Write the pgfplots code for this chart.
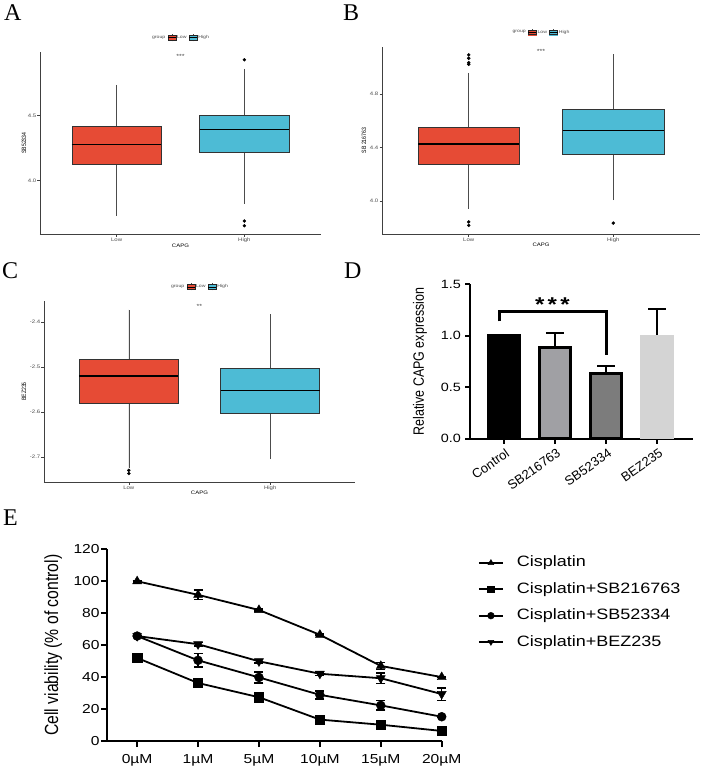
\documentclass[border=0pt]{standalone}
\usepackage{fontspec}
\setmainfont{Liberation Sans}
\newfontfamily\hs[FakeStretch=1.2]{Liberation Sans}
\newfontfamily\vs[FakeStretch=0.83]{Liberation Sans}
\newfontfamily\lettr{Liberation Serif}
\usepackage{pgfplots}
\pgfplotsset{compat=1.18}
\usepgfplotslibrary{statistics}
\definecolor{npgred}{HTML}{E64B35}
\definecolor{npgblue}{HTML}{4DBBD5}
\definecolor{gtxt}{gray}{0.3}
\definecolor{barA}{HTML}{A0A0A4}
\definecolor{barB}{HTML}{7C7C7C}
\definecolor{barC}{HTML}{D4D4D4}
\newcommand\fs[1]{\fontsize{#1bp}{#1bp}\selectfont}

% ggplot-like boxplot panels
\pgfplotsset{
  ggbox/.style={
    scale only axis, anchor=south west, clip=false,
    axis lines*=left, axis line style={black!75, line width=0.7bp, -},
    tick align=outside, major tick length=2.5bp,
    every tick/.style={black!75, line width=0.6bp},
    xmin=0.4, xmax=2.6, xtick={1,2}, xticklabels={Low,High},
    ticklabel style={font=\hs\fs{5}, text=gtxt, inner sep=1bp},
    xlabel={CAPG}, xlabel style={font=\hs\fs{5}, anchor=center},
    ylabel style={font=\vs\fs{6.2}, anchor=center, rotate=0},
    boxplot/draw direction=y,
    boxplot/box extend=0.7,
    boxplot/whisker extend=0,
    boxplot/every median/.style={black, line width=1.3bp},
    boxplot/every whisker/.style={black!70, line width=0.6bp},
    boxplot/every box/.style={draw=black!80, line width=0.6bp},
    legend columns=-1,
    legend style={draw=none, fill=none, font=\hs\fs{4.3}, text=gtxt, at={(0.5,1.078)}, anchor=center,
      inner sep=0bp, nodes={inner sep=0.8bp},
      /tikz/every even column/.append style={column sep=1.5bp}},
  },
  boxkey/.style={legend image code/.code={
      \draw[black!70, line width=0.4bp] (4bp,-3.5bp) -- (4bp,3.5bp);
      \fill[#1] (0bp,-2.3bp) rectangle (8bp,2.3bp);
      \draw[black!85, line width=0.5bp] (0bp,-2.3bp) rectangle (8bp,2.3bp);
      \draw[black, line width=0.7bp] (0bp,0bp) -- (8bp,0bp);}},
  outl/.style={mark=*, mark size=1.5bp, mark options={fill=black, draw=black}},
  errD/.style={error bars/y dir=plus, error bars/y explicit,
      error bars/error bar style={black, line width=2bp},
      error bars/error mark options={rotate=90, black, line width=2bp, mark size=9bp}},
  errE/.style={error bars/y dir=both, error bars/y explicit,
      error bars/error bar style={line width=1.5bp},
      error bars/error mark options={rotate=90, line width=1.5bp, mark size=4.5bp}},
}

\begin{document}
\begin{tikzpicture}
\useasboundingbox (0,0) rectangle (704bp,-769bp);

% panel letters
\node[anchor=base west, font=\lettr\fs{24}, inner sep=0] at (4bp,-20.7bp) {A};
\node[anchor=base west, font=\lettr\fs{24}, inner sep=0] at (343bp,-20.7bp) {B};
\node[anchor=base west, font=\lettr\fs{24}, inner sep=0] at (2bp,-278.5bp) {C};
\node[anchor=base west, font=\lettr\fs{24}, inner sep=0] at (344bp,-278.5bp) {D};
\node[anchor=base west, font=\lettr\fs{24}, inner sep=0] at (3bp,-525bp) {E};

% ---------- A ----------
\begin{axis}[ggbox, at={(40bp,-234bp)}, width=281bp, height=182bp,
  ymin=3.59, ymax=4.99, ytick={4.0,4.5}, yticklabels={4.0,4.5},
  ylabel={SB52334},
  ylabel style={at={(axis description cs:-0.057,0.5)}},
  xlabel style={at={(axis description cs:0.5,-0.066)}}]
\addlegendimage{empty legend}\addlegendentry{group}
\addlegendimage{boxkey=npgred}\addlegendentry{Low}
\addlegendimage{boxkey=npgblue}\addlegendentry{High}
\addplot[forget plot, fill=npgred, draw=black!80, boxplot prepared={draw position=1,
  lower whisker=3.73, lower quartile=4.123, median=4.277, upper quartile=4.415, upper whisker=4.738}]
  coordinates {};
\addplot[forget plot, fill=npgblue, draw=black!80, outl, boxplot prepared={draw position=2,
  lower whisker=3.823, lower quartile=4.215, median=4.392, upper quartile=4.5, upper whisker=4.86}]
  table[row sep=\\, y index=0] {v\\ 4.93\\ 3.69\\ 3.654\\};
\node[font=\hs\fs{6}, text=gtxt] at (axis cs:1.5,4.954) {***};
\end{axis}

% ---------- B ----------
\begin{axis}[ggbox, at={(382bp,-234bp)}, width=318bp, height=187bp,
  ymin=3.753, ymax=5.151, ytick={4.0,4.4,4.8}, yticklabels={4.0,4.4,4.8},
  ylabel={SB 216763},
  ylabel style={at={(axis description cs:-0.0566,0.5)}},
  xlabel style={at={(axis description cs:0.5,-0.060)}}]
\addlegendimage{empty legend}\addlegendentry{group}
\addlegendimage{boxkey=npgred}\addlegendentry{Low}
\addlegendimage{boxkey=npgblue}\addlegendentry{High}
\addplot[forget plot, fill=npgred, draw=black!80, outl, boxplot prepared={draw position=1,
  lower whisker=3.94, lower quartile=4.273, median=4.425, upper quartile=4.55, upper whisker=4.957}]
  table[row sep=\\, y index=0] {v\\ 5.092\\ 5.067\\ 5.034\\ 5.022\\ 3.843\\ 3.818\\};
\addplot[forget plot, fill=npgblue, draw=black!80, outl, boxplot prepared={draw position=2,
  lower whisker=4.007, lower quartile=4.35, median=4.527, upper quartile=4.684, upper whisker=5.095}]
  table[row sep=\\, y index=0] {v\\ 3.835\\};
\node[font=\hs\fs{6}, text=gtxt] at (axis cs:1.5,5.12) {***};
\end{axis}

% ---------- C ----------
\begin{axis}[ggbox, at={(44bp,-482bp)}, width=311bp, height=181bp,
  ymin=-2.756, ymax=-2.353, ytick={-2.7,-2.6,-2.5,-2.4}, yticklabels={-2.7,-2.6,-2.5,-2.4},
  ylabel={BEZ235},
  ylabel style={at={(axis description cs:-0.064,0.5)}},
  xlabel style={at={(axis description cs:0.5,-0.062)}}]
\addlegendimage{empty legend}\addlegendentry{group}
\addlegendimage{boxkey=npgred}\addlegendentry{Low}
\addlegendimage{boxkey=npgblue}\addlegendentry{High}
\addplot[forget plot, fill=npgred, draw=black!80, outl, boxplot prepared={draw position=1,
  lower whisker=-2.724, lower quartile=-2.5815, median=-2.52, upper quartile=-2.483, upper whisker=-2.372}]
  table[row sep=\\, y index=0] {v\\ -2.730\\ -2.737\\};
\addplot[forget plot, fill=npgblue, draw=black!80, boxplot prepared={draw position=2,
  lower whisker=-2.705, lower quartile=-2.604, median=-2.552, upper quartile=-2.502, upper whisker=-2.383}]
  coordinates {};
\node[font=\hs\fs{6}, text=gtxt] at (axis cs:1.5,-2.364) {**};
\end{axis}

% ---------- D ----------
\begin{axis}[scale only axis, anchor=south west, at={(470bp,-438.7bp)},
  width=223bp, height=154.4bp, clip=false,
  axis lines*=left, axis line style={black, line width=2bp, -},
  tick align=outside, major tick length=5bp,
  every tick/.style={black, line width=2bp},
  xmin=-0.66, xmax=3.70, ymin=0, ymax=1.5,
  xtick={0,1,2,3}, xticklabels={Control,SB216763,SB52334,BEZ235},
  ytick={0,0.5,1.0,1.5}, yticklabels={0.0,0.5,1.0,1.5},
  yticklabel style={font=\hs\fs{12}, inner sep=4bp},
  xticklabel style={font=\fs{13}, anchor=east, inner sep=0bp, xshift=4bp, yshift=-8bp, rotate=35},
  ylabel={Relative CAPG expression},
  ylabel style={font=\vs\fs{15}, at={(axis description cs:-0.224,0.5)}, anchor=center},
  ybar, bar shift=0bp]
\addplot[fill=black, draw=black, line width=3bp, bar width=31bp, errD] coordinates {(0,1.0) +- (0,0)};
\addplot[fill=barA, draw=black, line width=3bp, bar width=31bp, errD] coordinates {(1,0.887) +- (0,0.136)};
\addplot[fill=barB, draw=black, line width=3bp, bar width=31bp, errD] coordinates {(2,0.631) +- (0,0.078)};
\addplot[fill=barC, draw=none, bar width=34bp, errD] coordinates {(3,1.01) +- (0,0.252)};
\draw[black, line width=3bp, line join=miter]
  (axis cs:-0.08,1.14) -- (axis cs:-0.08,1.24) -- (axis cs:2.0,1.24) -- (axis cs:2.0,0.81);
\node[font=\hs\bfseries\fs{20}] at (axis cs:0.95,1.30) {*\,*\,*};
\end{axis}

% ---------- E ----------
\pgfplotstableread{
x y e
0 100 0.4
1 91.5 2.9
2 82 0.6
3 66.5 0.6
4 47 2.1
5 40 0.4
}\cis
\pgfplotstableread{
x y e
0 52 0.6
1 36.3 1.6
2 27.4 0.8
3 13.4 1.4
4 10.2 1.0
5 6.3 0.5
}\cisSBa
\pgfplotstableread{
x y e
0 65.7 0.5
1 50.5 4.2
2 39.8 3.5
3 28.9 2.5
4 22.3 3.0
5 15.2 0.5
}\cisSBb
\pgfplotstableread{
x y e
0 65.7 0.5
1 60.6 1.0
2 49.9 1.0
3 42.1 1.0
4 39.3 3.4
5 29.4 3.9
}\cisBEZ
\begin{axis}[scale only axis, anchor=south west, at={(107.3bp,-741bp)},
  width=334.4bp, height=191.7bp, clip=false,
  axis lines*=left, axis line style={black, line width=2.2bp, -},
  tick align=outside, major tick length=6bp,
  every tick/.style={black, line width=2bp},
  xmin=-0.49, xmax=5, ymin=0, ymax=120,
  xtick={0,...,5}, xticklabels={0µM,1µM,5µM,10µM,15µM,20µM},
  ytick={0,20,...,120}, yticklabels={0,20,40,60,80,100,120},
  yticklabel style={font=\hs\fs{13}, inner sep=1.5bp},
  xticklabel style={font=\hs\fs{13}, inner sep=2bp, yshift=-5bp},
  ylabel={Cell viability (\% of control)},
  ylabel style={font=\vs\fs{19}, at={(axis description cs:-0.1615,0.5)}, anchor=center},
  legend style={draw=none, fill=none, font=\hs\fs{15}, at={(1.108,0.972)}, anchor=north west,
    inner sep=0bp, row sep=10.4bp, nodes={inner sep=1bp, text height=11bp, text depth=3bp},
    /tikz/every odd column/.append style={column sep=12bp}},
  legend cell align=left,
  legend image code/.code={\draw[mark repeat=2, mark phase=2, #1, mark size=3.4bp] plot coordinates {(0bp,0bp) (12bp,0bp) (24bp,0bp)};}]
\addplot[black, line width=1.8bp, errE, mark=triangle*, mark size=5.2bp, mark options={fill=black, line width=0.4bp}]
  table[x=x, y=y, y error=e] {\cis};
\addlegendentry{Cisplatin}
\addplot[black, line width=1.8bp, errE, mark=square*, mark size=4.6bp, mark options={fill=black, line width=0.4bp}]
  table[x=x, y=y, y error=e] {\cisSBa};
\addlegendentry{Cisplatin+SB216763}
\addplot[black, line width=1.8bp, errE, mark=*, mark size=4.5bp, mark options={fill=black, line width=0.4bp}]
  table[x=x, y=y, y error=e] {\cisSBb};
\addlegendentry{Cisplatin+SB52334}
\addplot[black, line width=1.8bp, errE, mark=triangle*, mark size=5.2bp, mark options={fill=black, line width=0.4bp, rotate=180}]
  table[x=x, y=y, y error=e] {\cisBEZ};
\addlegendentry{Cisplatin+BEZ235}
\end{axis}
\end{tikzpicture}
\end{document}
